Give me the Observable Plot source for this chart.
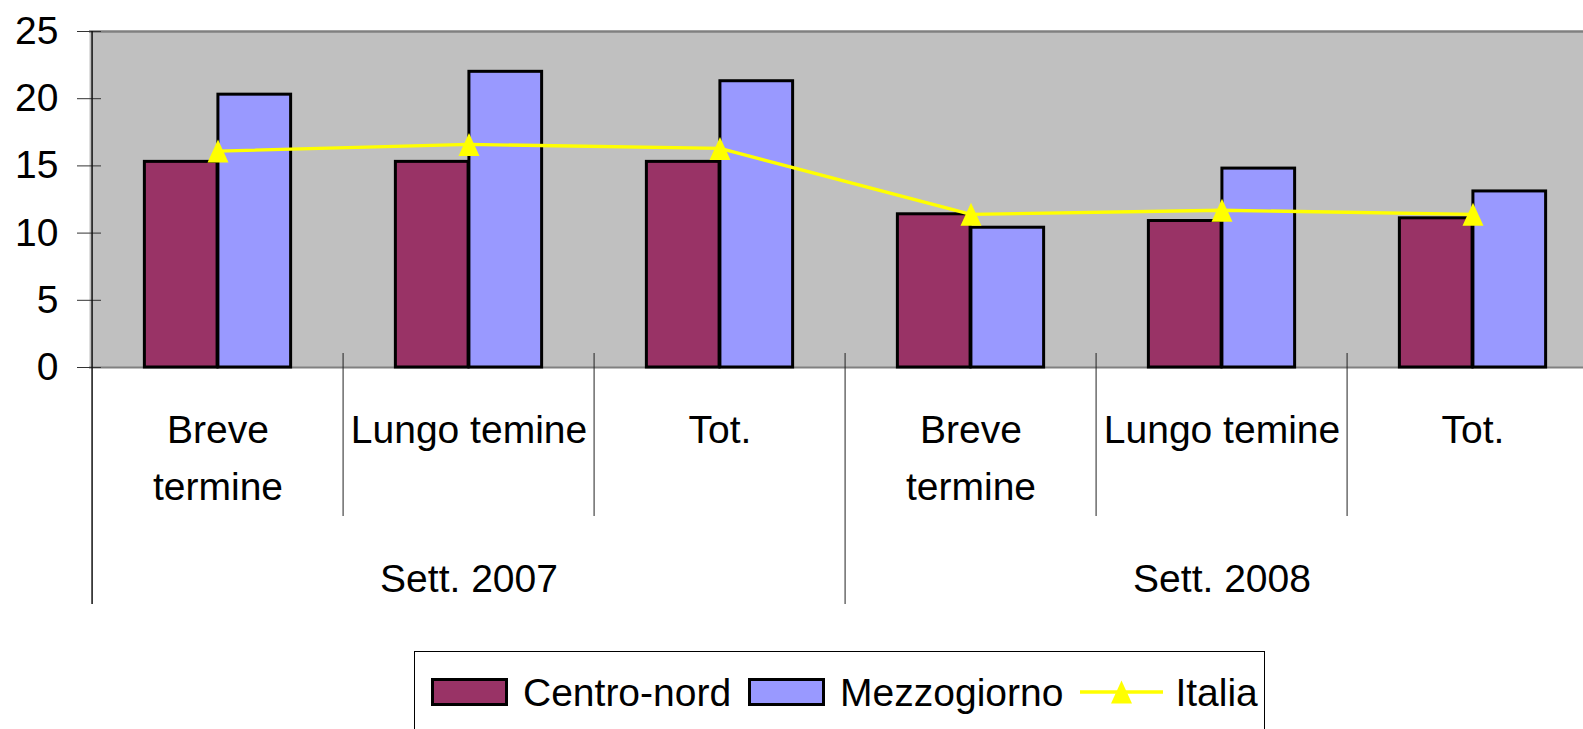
<!DOCTYPE html>
<html>
<head>
<meta charset="utf-8">
<script src="https://cdn.jsdelivr.net/npm/d3@7"></script>
<script src="https://cdn.jsdelivr.net/npm/@observablehq/plot@0.6"></script>
<style>
  html, body { margin: 0; padding: 0; background: #fff; width: 1583px; height: 729px; overflow: hidden; }
  #chart { position: absolute; left: 0; top: 0; }
  #legend {
    position: absolute; left: 414px; top: 651px; width: 851px; height: 100px;
    border: 1.5px solid #000; box-sizing: border-box; background: #fff;
    font-family: "Liberation Sans", Arial, sans-serif; font-size: 39px; color: #000;
  }
  #legend .row { position: absolute; left: 16px; top: 26px; height: 28px; display: flex; align-items: center; white-space: nowrap; }
  #legend .sw { width: 77px; height: 28px; box-sizing: border-box; border: 3px solid #000; margin-right: 15px; }
  #legend .lab { margin-right: 17px; line-height: 1; }
  #legend svg { margin-right: 12px; }
</style>
</head>
<body>
<div id="chart"></div>
<div id="legend"></div>
<script>
// ---- data ----
const periods = ["Sett. 2007", "Sett. 2008"];
const subcats = ["Breve\ntermine", "Lungo temine", "Tot."];
const seriesNames = ["Centro-nord", "Mezzogiorno", "Italia"];
const centroNord = [15.3, 15.3, 15.3, 11.4, 10.9, 11.1];
const mezzogiorno = [20.3, 22.0, 21.3, 10.4, 14.8, 13.1];
const italia = [16.1, 16.6, 16.3, 11.4, 11.7, 11.4];
const yTicks = [0, 5, 10, 15, 20, 25];

// ---- styles ----
const colCentro = "#993366", colMezz = "#9999FF", colItalia = "#FFFF00";
const FONT = "'Liberation Sans', Arial, sans-serif";
const FS = 39;

// Excel-like triangle marker (slightly taller than wide, centred on its box)
const excelTriangle = {
  draw(context, size) {
    const r = Math.sqrt(size / Math.PI);
    const w = 1.05 * r, h = 1.15 * r;
    context.moveTo(0, -h);
    context.lineTo(w, h);
    context.lineTo(-w, h);
    context.closePath();
  }
};

const rows = periods.flatMap((p, i) => subcats.map((s, j) => {
  const k = i * subcats.length + j;
  return {key: p + "|" + s, period: p, sub: s, idx: j, centro: centroNord[k], mezz: mezzogiorno[k], italia: italia[k]};
}));
const periodRows = rows.filter(d => d.idx === 1);
const innerSeps = rows.filter(d => d.idx !== 0);
const periodSeps = rows.filter((d, i) => d.idx === 0 && i > 0);
const firstSep = rows.filter((d, i) => i === 0);

const W = 1583, H = 620, mL = 89, mT = 31, mB = 253;
const xRange = [89, 1600];
const bw = (xRange[1] - xRange[0]) / rows.length;
const barW = bw * 0.292;
const frameBottom = H - mB;

const chart = Plot.plot({
  width: W, height: H,
  marginLeft: mL, marginRight: 0, marginTop: mT, marginBottom: mB,
  style: {fontFamily: FONT, fontSize: FS + "px", color: "#000", background: "#fff", overflow: "visible"},
  x: {type: "band", domain: rows.map(d => d.key), range: xRange, padding: 0, axis: null},
  y: {domain: [0, 25], label: null},
  marks: [
    Plot.frame({fill: "#C0C0C0", stroke: null}),
    Plot.ruleY([yTicks[yTicks.length - 1]], {stroke: "#808080", strokeWidth: 2.5}),
    Plot.ruleY([0], {stroke: "#808080", strokeWidth: 2}),
    Plot.barY(rows, {x: "key", y: "centro", fill: colCentro, stroke: "#000", strokeWidth: 3,
      insetLeft: bw / 2 - barW, insetRight: bw / 2}),
    Plot.barY(rows, {x: "key", y: "mezz", fill: colMezz, stroke: "#000", strokeWidth: 3,
      insetLeft: bw / 2, insetRight: bw / 2 - barW}),
    Plot.lineY(rows, {x: "key", y: "italia", stroke: colItalia, strokeWidth: 3.3}),
    Plot.dot(rows, {x: "key", y: "italia", symbol: excelTriangle, r: 10, fill: colItalia, stroke: null}),
    // y axis ticks crossing the axis line
    Plot.axisY({ticks: yTicks, tickSize: 24, dx: 12, fill: "none", stroke: "#333", label: null}),
    Plot.axisY({ticks: yTicks, tickSize: 0, tickPadding: 31, fontSize: FS, label: null}),
    // vertical axis line and category separators
    Plot.ruleX(firstSep, {x: "key", dx: -bw / 2, stroke: "#111", strokeWidth: 1.5, insetTop: 0, insetBottom: -(604 - frameBottom)}),
    Plot.ruleX(innerSeps, {x: "key", dx: -bw / 2, stroke: "#222", strokeWidth: 1, insetTop: 353 - mT, insetBottom: -(516 - frameBottom)}),
    Plot.ruleX(periodSeps, {x: "key", dx: -bw / 2, stroke: "#222", strokeWidth: 1, insetTop: 353 - mT, insetBottom: -(604 - frameBottom)}),
    // category labels
    Plot.text(rows, {x: "key", text: "sub", frameAnchor: "bottom", lineAnchor: "top", dy: 36, lineHeight: 1.44, fontSize: FS}),
    Plot.text(periodRows, {x: "key", text: "period", frameAnchor: "bottom", lineAnchor: "top", dy: 197, fontSize: FS})
  ]
});
document.getElementById("chart").append(chart);

// ---- legend ----
const legend = document.getElementById("legend");
const row = document.createElement("div");
row.className = "row";
legend.append(row);
function addSwatch(color, name) {
  const sw = document.createElement("div");
  sw.className = "sw"; sw.style.background = color;
  const lab = document.createElement("span");
  lab.className = "lab"; lab.textContent = name;
  row.append(sw, lab);
}
addSwatch(colCentro, seriesNames[0]);
addSwatch(colMezz, seriesNames[1]);
const ns = "http://www.w3.org/2000/svg";
const ls = document.createElementNS(ns, "svg");
ls.setAttribute("width", 83); ls.setAttribute("height", 28);
const ln = document.createElementNS(ns, "line");
ln.setAttribute("x1", 0); ln.setAttribute("x2", 83); ln.setAttribute("y1", 14); ln.setAttribute("y2", 14);
ln.setAttribute("stroke", colItalia); ln.setAttribute("stroke-width", 3.3);
const tri = document.createElementNS(ns, "path");
tri.setAttribute("d", d3.symbol(excelTriangle, Math.PI * 10 * 10)());
tri.setAttribute("transform", "translate(41.5,14)");
tri.setAttribute("fill", colItalia);
ls.append(ln, tri);
row.append(ls);
const lab3 = document.createElement("span");
lab3.className = "lab"; lab3.textContent = seriesNames[2];
row.append(lab3);
</script>
</body>
</html>
